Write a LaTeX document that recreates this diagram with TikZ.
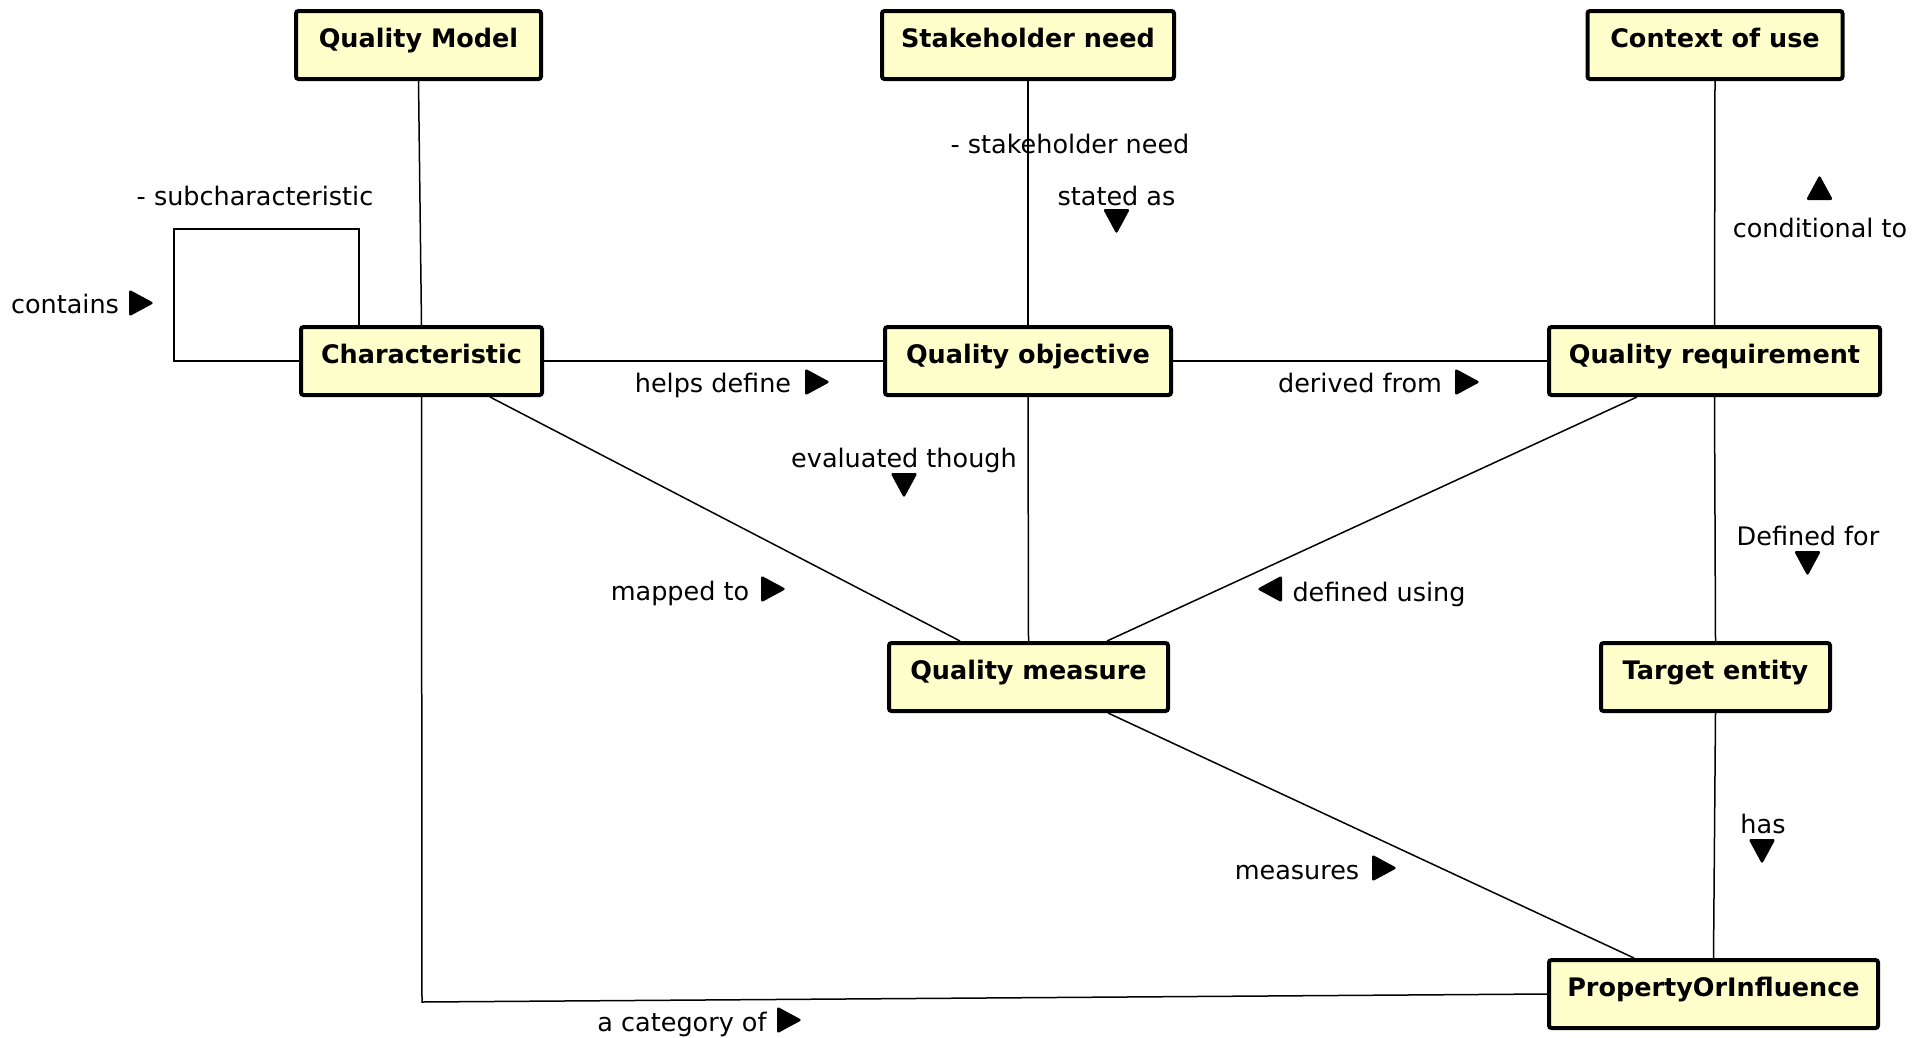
\documentclass[tikz,border=0pt]{standalone}
\usepackage{fontspec}
\setmainfont{DejaVu Sans}
\usetikzlibrary{calc}
\definecolor{boxfill}{HTML}{FFFFCC}
\tikzset{
  box/.style={draw=black, line width=4pt, fill=boxfill, rounded corners=2.5pt,
    inner sep=0pt, minimum height=68pt, text height=36.5pt, text depth=31.5pt,
    font=\fontsize{25.5}{30}\selectfont\bfseries},
  lbl/.style={inner sep=0pt, anchor=base, font=\fontsize{25.5}{30}\selectfont},
  conn/.style={draw=black, line width=1.5pt},
  tR/.pic={\fill[rounded corners=2.5pt] (-12,-13.5) -- (13,0) -- (-12,13.5) -- cycle;},
  tL/.pic={\fill[rounded corners=2.5pt] (12,-13.5) -- (-13,0) -- (12,13.5) -- cycle;},
  tD/.pic={\fill[rounded corners=2.5pt] (-13.5,-12) -- (0,13) -- (13.5,-12) -- cycle;},
  tU/.pic={\fill[rounded corners=2.5pt] (-13.5,12) -- (0,-13) -- (13.5,12) -- cycle;},
}
\begin{document}
\begin{tikzpicture}[x=1pt,y=-1pt]
\useasboundingbox (0,0) rectangle (1915,1037);
% boxes
\node[box, minimum width=245pt] (QM)  at (418.5,45)   {Quality Model};
\node[box, minimum width=292pt] (SN)  at (1028,45)    {Stakeholder need};
\node[box, minimum width=255pt] (CU)  at (1715,45)    {Context of use};
\node[box, minimum width=241pt] (CH)  at (421.5,361)  {Characteristic};
\node[box, minimum width=286pt] (QO)  at (1028,361)   {Quality objective};
\node[box, minimum width=331pt] (QR)  at (1714.5,361) {Quality requirement};
\node[box, minimum width=279pt] (QMe) at (1028.5,677) {Quality measure};
\node[box, minimum width=229pt] (TE)  at (1715.5,677) {Target entity};
\node[box, minimum width=329pt] (POI) at (1713.5,994) {PropertyOrInfluence};
% helper coordinates
\coordinate (loopL) at (174,229);
\coordinate (loopR) at (359,229);
\coordinate (corner) at (422,1002);
% connectors
\draw[conn] (QM.south) -- (CH.north);
\draw[conn] (CH.west) -| (loopL) -- (loopR) -- (loopR |- CH.north);
\draw[conn] (SN.south) -- (QO.north);
\draw[conn] (CU.south) -- (QR.north);
\draw[conn] (CH.east) -- (QO.west);
\draw[conn] (QO.east) -- (QR.west);
\draw[conn] ([xshift=68.5pt]CH.south) -- ([xshift=-68.5pt]QMe.north);
\draw[conn] (QO.south) -- (QMe.north);
\draw[conn] ([xshift=-77.5pt]QR.south) -- ([xshift=78.5pt]QMe.north);
\draw[conn] (QR.south) -- (TE.north);
\draw[conn] ([xshift=79.5pt]QMe.south) -- ([xshift=-79.5pt]POI.north);
\draw[conn] (TE.south) -- (POI.north);
\draw[conn] (CH.south) -- (corner) -- (POI.west);
% labels
\node[lbl] (l1)  at (255,205)    {- subcharacteristic};
\node[lbl] (l2)  at (65,313)     {contains};
\node[lbl] (l3)  at (1070,153)   {- stakeholder need};
\node[lbl] (l4)  at (1116.5,205) {stated as};
\node[lbl] (l5)  at (1820,237)   {conditional to};
\node[lbl] (l6)  at (713,392)    {helps define};
\node[lbl] (l7)  at (1360,392)   {derived from};
\node[lbl] (l8)  at (904,467)    {evaluated though};
\node[lbl] (l9)  at (680,600)    {mapped to};
\node[lbl] (l10) at (1379,601)   {defined using};
\node[lbl] (l11) at (1808,545)   {Defined for};
\node[lbl] (l12) at (1763,833)   {has};
\node[lbl] (l13) at (1297,879)   {measures};
\node[lbl] (l14) at (682,1031)   {a category of};
% direction triangles
\pic at (141,303)    {tR};
\pic at (1116.5,221) {tD};
\pic at (1819.5,188) {tU};
\pic at (817,382)    {tR};
\pic at (1467,382)   {tR};
\pic at (904,485)    {tD};
\pic at (773,589)    {tR};
\pic at (1270,589)   {tL};
\pic at (1807.5,563) {tD};
\pic at (1762,851)   {tD};
\pic at (1384,868)   {tR};
\pic at (789,1020)   {tR};
\end{tikzpicture}
\end{document}
